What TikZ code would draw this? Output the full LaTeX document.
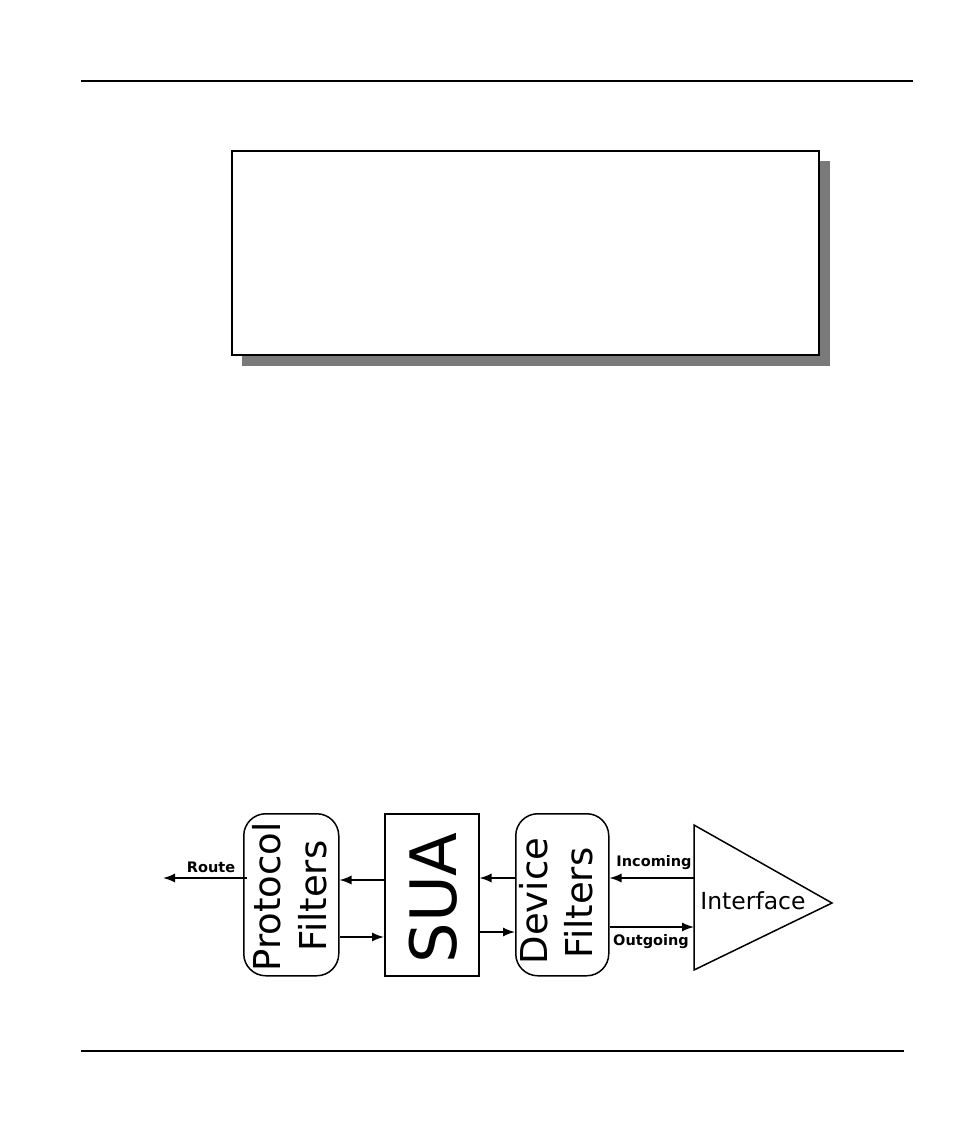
\documentclass[tikz,border=0pt]{standalone}
\usepackage{fontspec}
\setmainfont{DejaVu Sans}
\usetikzlibrary{arrows.meta}
\definecolor{shadowgray}{HTML}{7A7A7A}
\tikzset{
  rule/.style={line width=1.3pt, black},
  filterbox/.style={draw, line width=1.5pt, rounded corners=22pt},
  bigtxt/.style={rotate=90, font=\fontsize{37}{37}\selectfont, inner sep=0pt},
  flow/.style={line width=1.5pt, -{Latex[length=12pt,width=9pt]}},
  lbl/.style={font=\fontsize{14.5}{14.5}\selectfont\bfseries, inner sep=0pt}
}
\begin{document}
\begin{tikzpicture}[x=1pt,y=-1pt]
\useasboundingbox (0,0) rectangle (954,1132);
\fill[white] (0,0) rectangle (954,1132);
% header and footer rules
\coordinate (h1) at (81,81); \coordinate (h2) at (913,81);
\coordinate (f1) at (81,1051); \coordinate (f2) at (904,1051);
\draw[rule] (h1) -- (h2);
\draw[rule] (f1) -- (f2);
% top empty box with shadow
\fill[shadowgray] (242,161) rectangle (830,366);
\node[draw, line width=2pt, fill=white, minimum width=587pt, minimum height=204pt, inner sep=0pt, anchor=north west] (topbox) at (231,150) {};
% bottom diagram
\node[filterbox, minimum width=95pt, minimum height=162pt, anchor=north west] (pf) at (243,813) {};
\node[draw, line width=1.5pt, minimum width=94pt, minimum height=162pt, anchor=north west] (sua) at (384,813) {};
\node[filterbox, minimum width=93pt, minimum height=162pt, anchor=north west] (df) at (515,813) {};
\coordinate (t1) at (694,825); \coordinate (t2) at (694,970); \coordinate (t3) at (832,903);
\draw[line width=1.5pt, line join=miter] (t1) -- (t3) -- (t2) -- cycle;
\coordinate (ifl) at (694,878); \coordinate (ifl2) at (694,927);
% texts
\node[bigtxt] (pt1) at (267,897) {Protocol};
\node[bigtxt] (pt2) at (313,896) {Filters};
\node[bigtxt, font=\fontsize{64}{64}\selectfont] (st) at (433,898) {SUA};
\node[bigtxt] (dt1) at (534,901) {Device};
\node[bigtxt] (dt2) at (579,903) {Filters};
\node[font=\fontsize{23.5}{23.5}\selectfont, inner sep=0pt] (it) at (753,901) {Interface};
% arrows
\coordinate (rs) at (247,878); \coordinate (re) at (163,878);
\draw[flow] (rs) -- (re);
\node[lbl] (route) at (211,867) {Route};
\draw[flow] (sua.west |- 0,880) -- (pf.east |- 0,880);
\draw[flow] (pf.east |- 0,937) -- (sua.west |- 0,937);
\draw[flow] (df.west |- 0,878) -- (sua.east |- 0,878);
\draw[flow] (sua.east |- 0,932) -- (df.west |- 0,932);
\draw[flow] (ifl) -- (df.east |- ifl);
\draw[flow] (df.east |- ifl2) -- (ifl2);
\node[lbl] (inc) at (654,863) {Incoming};
\node[lbl] (out) at (651,942) {Outgoing};
\end{tikzpicture}
\end{document}
